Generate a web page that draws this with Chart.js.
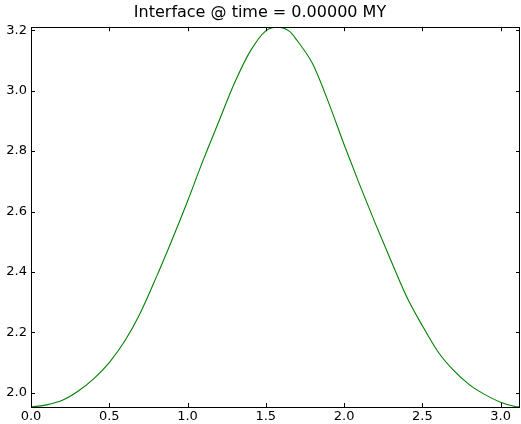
<!DOCTYPE html>
<html>
<head>
<meta charset="utf-8">
<script src="https://cdn.jsdelivr.net/npm/chart.js@4"></script>
<style>
  html, body { margin: 0; padding: 0; background: #fff; }
  #wrap { width: 521px; height: 424px; }
</style>
</head>
<body>
<div id="wrap"><canvas id="interface-chart" width="521" height="424"></canvas></div>
<script>
// interface depth vs position
const xValues = [0.00, 0.10, 0.20, 0.30, 0.40, 0.50, 0.60, 0.70, 0.80, 0.90,
                 1.00, 1.10, 1.20, 1.30, 1.40, 1.50, 1.57, 1.65, 1.70, 1.80,
                 1.90, 2.00, 2.10, 2.20, 2.30, 2.40, 2.50, 2.60, 2.70, 2.80,
                 2.90, 3.00, 3.10, 3.12];
const yValues = [1.953, 1.960, 1.975, 2.005, 2.046, 2.100, 2.172, 2.266, 2.382, 2.505,
                 2.634, 2.770, 2.898, 3.025, 3.130, 3.198, 3.210, 3.197, 3.166, 3.088,
                 2.962, 2.822, 2.688, 2.560, 2.437, 2.318, 2.222, 2.136, 2.074, 2.027,
                 1.994, 1.969, 1.954, 1.953];
const xTicks = [0.0, 0.5, 1.0, 1.5, 2.0, 2.5, 3.0];
const yTicks = [2.0, 2.2, 2.4, 2.6, 2.8, 3.0, 3.2];
const titleText = 'Interface @ time = 0.00000 MY';

// matplotlib-like frame with inward ticks on all four sides
const frameTicks = {
    id: 'frameTicks',
    afterDatasetsDraw(chart) {
        const { ctx, chartArea: a, scales } = chart;
        const len = 4;
        ctx.save();
        ctx.strokeStyle = '#000';
        ctx.lineWidth = 1;
        ctx.beginPath();
        scales.x.ticks.forEach(t => {
            const px = Math.round(scales.x.getPixelForValue(t.value)) + 0.5;
            ctx.moveTo(px, a.bottom); ctx.lineTo(px, a.bottom - len);
            ctx.moveTo(px, a.top); ctx.lineTo(px, a.top + len);
        });
        scales.y.ticks.forEach(t => {
            const py = Math.round(scales.y.getPixelForValue(t.value)) + 0.5;
            ctx.moveTo(a.left, py); ctx.lineTo(a.left + len, py);
            ctx.moveTo(a.right, py); ctx.lineTo(a.right - len, py);
        });
        ctx.stroke();
        ctx.strokeRect(Math.round(a.left) + 0.5, Math.round(a.top) + 0.5,
                       Math.round(a.right - a.left) - 1, Math.round(a.bottom - a.top));
        ctx.restore();
    }
};

function initChart() {
    const ctx = document.getElementById('interface-chart').getContext('2d');
    Chart.defaults.font.family = '"DejaVu Sans", sans-serif';
    Chart.defaults.color = '#000';

    new Chart(ctx, {
        type: 'scatter',
        data: {
            datasets: [{
                data: xValues.map((x, i) => ({ x: x, y: yValues[i] })),
                showLine: true,
                borderColor: 'rgb(0, 128, 0)',
                borderWidth: 1.1,
                pointRadius: 0,
                cubicInterpolationMode: 'monotone'
            }]
        },
        options: {
            responsive: false,
            animation: false,
            layout: { padding: { left: 0, right: 1, top: 0, bottom: 0 } },
            scales: {
                x: {
                    type: 'linear',
                    min: 0,
                    max: 3.124,
                    afterBuildTicks: axis => { axis.ticks = xTicks.map(v => ({ value: v })); },
                    afterFit: scale => { scale.height = 17; },
                    grid: { display: false, drawTicks: false },
                    border: { display: false },
                    ticks: {
                        padding: 2,
                        font: { size: 13 },
                        callback: v => v.toFixed(1)
                    }
                },
                y: {
                    min: 1.953,
                    max: 3.21,
                    afterBuildTicks: axis => { axis.ticks = yTicks.map(v => ({ value: v })); },
                    afterFit: scale => { scale.width = 31; },
                    grid: { display: false, drawTicks: false },
                    border: { display: false },
                    ticks: {
                        padding: 4,
                        font: { size: 13 },
                        callback: v => v.toFixed(1)
                    }
                }
            },
            plugins: {
                legend: { display: false },
                tooltip: { enabled: false },
                title: {
                    display: true,
                    text: titleText,
                    font: { size: 16, weight: 'normal' },
                    color: '#000',
                    padding: { top: 3, bottom: 5 }
                }
            }
        },
        plugins: [frameTicks]
    });
}

document.addEventListener('DOMContentLoaded', initChart);
</script>
</body>
</html>
